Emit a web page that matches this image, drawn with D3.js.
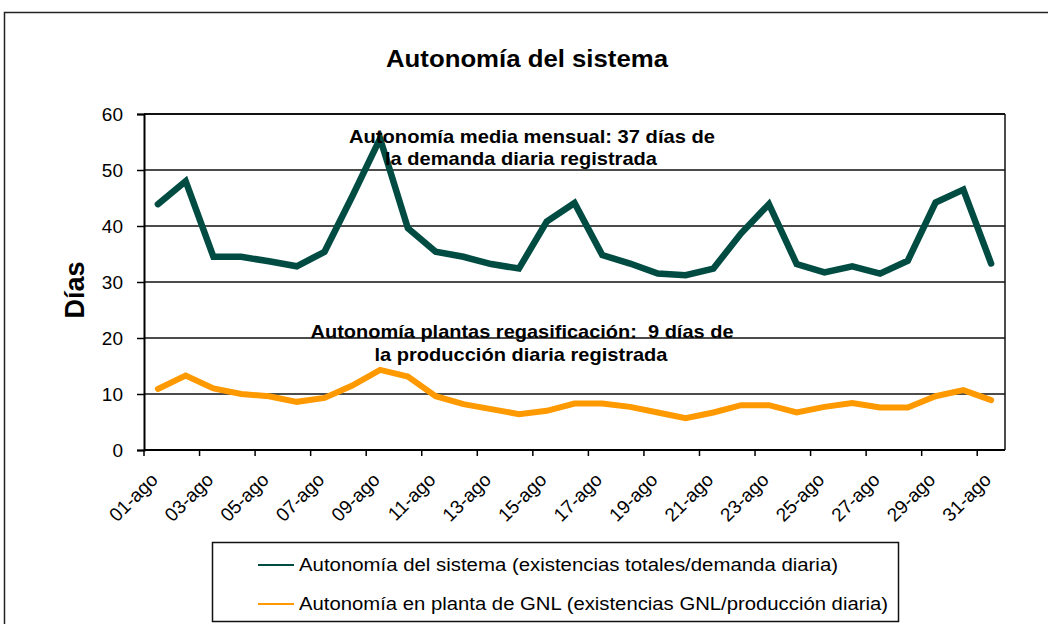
<!DOCTYPE html>
<html>
<head>
<meta charset="utf-8">
<script src="https://cdn.jsdelivr.net/npm/d3@7/dist/d3.min.js"></script>
<style>
  body { margin: 0; background: #fff; }
  svg { display: block; font-family: "Liberation Sans", Arial, sans-serif; }
</style>
</head>
<body>
<div id="chart"></div>
<script>
// ---- data ----
const days = ['01-ago','02-ago','03-ago','04-ago','05-ago','06-ago','07-ago','08-ago','09-ago','10-ago',
  '11-ago','12-ago','13-ago','14-ago','15-ago','16-ago','17-ago','18-ago','19-ago','20-ago',
  '21-ago','22-ago','23-ago','24-ago','25-ago','26-ago','27-ago','28-ago','29-ago','30-ago','31-ago'];

const sistema = [43.9, 48.0, 34.5, 34.5, 33.7, 32.8, 35.4, 45.3, 55.6, 39.6,
  35.4, 34.5, 33.2, 32.4, 40.8, 44.1, 34.8, 33.3, 31.5, 31.2,
  32.4, 38.7, 43.9, 33.2, 31.7, 32.8, 31.5, 33.8, 44.2, 46.5, 33.3];

const plantas = [10.9, 13.3, 11.0, 10.0, 9.6, 8.6, 9.3, 11.5, 14.3, 13.1,
  9.6, 8.2, 7.3, 6.4, 7.0, 8.3, 8.3, 7.7, 6.7, 5.7,
  6.7, 8.0, 8.0, 6.7, 7.7, 8.4, 7.6, 7.6, 9.6, 10.7, 8.9];

const yTicks = [0, 10, 20, 30, 40, 50, 60];

const seriesNames = [
  'Autonomía del sistema (existencias totales/demanda diaria)',
  'Autonomía en planta de GNL (existencias GNL/producción diaria)'
];
const seriesColors = ['#004C42', '#FF9900'];

// ---- layout ----
const W = 1048, H = 624;
const plot = { left: 144, right: 1005, top: 114, bottom: 450 };

const svg = d3.select('#chart').append('svg')
  .attr('width', W).attr('height', H);

// outer chart border
svg.append('rect')
  .attr('x', 4.5).attr('y', 12.5)
  .attr('width', W + 10).attr('height', H + 10)
  .attr('fill', 'none').attr('stroke', '#222').attr('stroke-width', 1.5);

const x = d3.scaleBand().domain(days).range([plot.left, plot.right]).padding(0);
const cx = d => x(d) + x.bandwidth() / 2;
const y = d3.scaleLinear().domain([0, 60]).range([plot.bottom, plot.top]);

// gridlines
svg.append('g').selectAll('line')
  .data(yTicks.filter(t => t > 0))
  .join('line')
  .attr('x1', plot.left).attr('x2', plot.right)
  .attr('y1', d => y(d)).attr('y2', d => y(d))
  .attr('stroke', '#111').attr('stroke-width', d => d === 60 ? 2 : 1.3);

// right border of plot area
svg.append('line')
  .attr('x1', plot.right).attr('x2', plot.right)
  .attr('y1', plot.top).attr('y2', plot.bottom)
  .attr('stroke', '#111').attr('stroke-width', 1.5);

// y axis
const yAxis = svg.append('g')
  .attr('transform', `translate(${plot.left},0)`)
  .call(d3.axisLeft(y).tickValues(yTicks).tickSize(7).tickPadding(14));
yAxis.select('.domain').attr('stroke', '#000').attr('stroke-width', 2);
yAxis.selectAll('.tick line').attr('stroke', '#000').attr('stroke-width', 1.5);
yAxis.selectAll('.tick text')
  .attr('font-size', 19).attr('fill', '#000')
  .attr('font-family', '"Liberation Sans", Arial, sans-serif');

// x axis (custom: ticks between categories every 2, labels every 2)
const xg = svg.append('g');
xg.append('line')
  .attr('x1', plot.left).attr('x2', plot.right)
  .attr('y1', plot.bottom).attr('y2', plot.bottom)
  .attr('stroke', '#000').attr('stroke-width', 2);
const every2 = days.filter((d, i) => i % 2 === 0);
xg.selectAll('line.tk')
  .data(every2)
  .join('line')
  .attr('class', 'tk')
  .attr('x1', d => x(d)).attr('x2', d => x(d))
  .attr('y1', plot.bottom).attr('y2', plot.bottom + 6)
  .attr('stroke', '#000').attr('stroke-width', 1.5);
xg.selectAll('text')
  .data(every2)
  .join('text')
  .attr('transform', d => `translate(${cx(d) + 1},${plot.bottom + 31}) rotate(-45)`)
  .attr('text-anchor', 'end')
  .attr('font-size', 19)
  .attr('fill', '#000')
  .text(d => d);

// lines
const line = d3.line().x((d, i) => cx(days[i])).y(d => y(d));
[plantas, sistema].forEach((s, k) => {
  svg.append('path')
    .datum(s)
    .attr('d', line)
    .attr('fill', 'none')
    .attr('stroke', k === 0 ? seriesColors[1] : seriesColors[0])
    .attr('stroke-width', k === 0 ? 6 : 6.5)
    .attr('stroke-linejoin', 'miter')
    .attr('stroke-linecap', 'round');
});

// title
svg.append('text')
  .attr('x', 527).attr('y', 67)
  .attr('text-anchor', 'middle')
  .attr('font-size', 24).attr('font-weight', 'bold')
  .attr('textLength', 282).attr('lengthAdjust', 'spacingAndGlyphs')
  .text('Autonomía del sistema');

// y axis title
svg.append('text')
  .attr('transform', 'translate(84,290) rotate(-90)')
  .attr('text-anchor', 'middle')
  .attr('font-size', 27).attr('font-weight', 'bold')
  .text('Días');

// annotations
const notes = [
  { t: 'Autonomía media mensual: 37 días de', x: 532, y: 143, w: 366 },
  { t: 'la demanda diaria registrada', x: 521, y: 165, w: 272 },
  { t: 'Autonomía plantas regasificación:  9 días de', x: 522, y: 338, w: 423 },
  { t: 'la producción diaria registrada', x: 521, y: 361, w: 293 }
];
svg.append('g').selectAll('text')
  .data(notes)
  .join('text')
  .attr('x', d => d.x).attr('y', d => d.y)
  .attr('text-anchor', 'middle')
  .attr('font-size', 19).attr('font-weight', 'bold')
  .attr('textLength', d => d.w).attr('lengthAdjust', 'spacingAndGlyphs')
  .style('white-space', 'pre')
  .text(d => d.t);

// legend
const lg = svg.append('g');
lg.append('rect')
  .attr('x', 212.5).attr('y', 542.5)
  .attr('width', 686).attr('height', 79)
  .attr('fill', '#fff').attr('stroke', '#111').attr('stroke-width', 1.5);
const legW = [539, 589];
seriesNames.forEach((n, i) => {
  const ly = 565 + i * 39;
  lg.append('line')
    .attr('x1', 258).attr('x2', 294)
    .attr('y1', ly).attr('y2', ly)
    .attr('stroke', seriesColors[i]).attr('stroke-width', 2);
  lg.append('text')
    .attr('x', 299).attr('y', ly + 6)
    .attr('font-size', 17.5)
    .attr('textLength', legW[i]).attr('lengthAdjust', 'spacingAndGlyphs')
    .text(n);
});
</script>
</body>
</html>
